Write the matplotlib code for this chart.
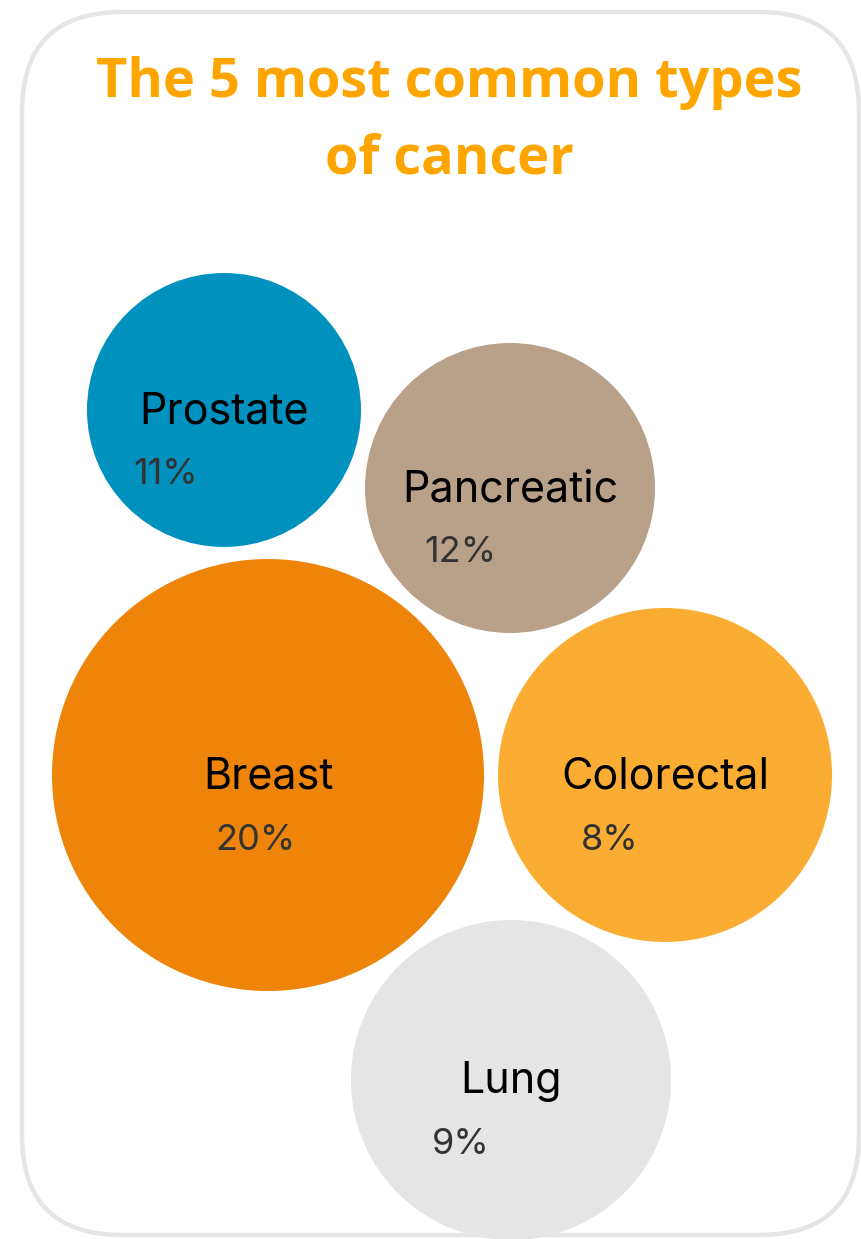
import matplotlib.pyplot as plt
from matplotlib.patches import Circle, FancyBboxPatch

categories = ['Prostate', 'Pancreatic', 'Breast', 'Colorectal', 'Lung']
shares = [11, 12, 20, 8, 9]
colors = ['#0091be', '#b9a189', '#ee850a', '#fbad33', '#e5e5e5']

# bubble layout in pixel units (x, y, radius) and percent label offsets
bubbles = [(224, 410, 137), (510, 488, 145), (268, 775, 216),
           (665, 775, 167), (511, 1080, 160)]
pct_dx = [-91, -86, -53, -84, -79]

W, H = 861, 1239
fig = plt.figure(figsize=(W / 100, H / 100), dpi=100)
ax = fig.add_axes([0, 0, 1, 1])
ax.set_xlim(0, W)
ax.set_ylim(H, 0)
ax.axis('off')

# rounded card border
card = FancyBboxPatch((22 + 100, 12 + 100), 837 - 200, 1223 - 200,
                      boxstyle='round,pad=100', fc='white', ec='#e5e5e5',
                      lw=3.2, zorder=0)
ax.add_patch(card)

ax.text(449, 97, 'The 5 most common types', ha='center', va='baseline',
        fontsize=39, fontweight='bold', family='Open Sans', color='#ffa500')
ax.text(449, 173, 'of cancer', ha='center', va='baseline',
        fontsize=39, fontweight='bold', family='Open Sans', color='#ffa500')

for name, val, col, (x, y, r), dx in zip(categories, shares, colors, bubbles, pct_dx):
    ax.add_patch(Circle((x, y), r, fc=col, ec='none', zorder=1))
    ax.text(x, y + 2, name, ha='center', va='center', fontsize=31,
            family='Inter', color='black', zorder=2)
    ax.text(x + dx, y + 65, f'{val}%', ha='left', va='center', fontsize=26,
            family='Inter', color='#333333', zorder=2)

fig.savefig('out.png', dpi=100)
